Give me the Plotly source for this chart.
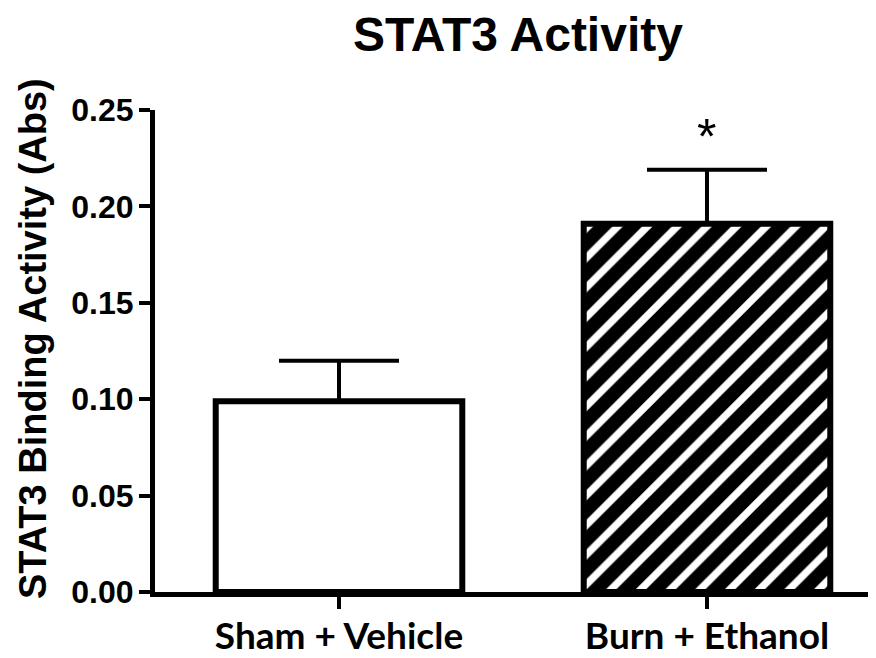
import plotly.graph_objects as go

categories = ["Sham + Vehicle", "Burn + Ethanol"]
means = [0.099, 0.191]
sem = [0.021, 0.028]
significance = ["", "*"]
patterns = ["", "/"]
y_ticks = [0.00, 0.05, 0.10, 0.15, 0.20, 0.25]
y_tick_labels = ["0.00", "0.05", "0.10", "0.15", "0.20", "0.25"]

# page body has an 8px margin; positions below are in figure coordinates
W, H = 876, 658
L, R, T, B = 147, 0, 102, 74

fig = go.Figure()
for c, m, e, p in zip(categories, means, sem, patterns):
    fig.add_trace(go.Bar(
        x=[c], y=[m], width=0.67,
        marker=dict(
            color="white",
            line=dict(color="black", width=6),
            pattern=dict(shape=p, fgcolor="#000000", bgcolor="#ffffff",
                         fgopacity=1, fillmode="replace",
                         size=21, solidity=0.65) if p else None,
        ),
        error_y=dict(type="data", symmetric=False, array=[e], arrayminus=[0],
                     color="black", thickness=4, width=60),
        showlegend=False,
    ))

for c, m, e, s in zip(categories, means, sem, significance):
    if s:
        fig.add_annotation(x=c, y=m + e, text=s, showarrow=False,
                           yanchor="bottom", yshift=3,
                           font=dict(family="Liberation Sans", size=50, color="black"))

fig.add_annotation(xref="paper", yref="paper",
                   x=(25 - L) / (W - L - R), y=(584 - 331) / (H - T - B),
                   text="<b>STAT3 Binding Activity (Abs)</b>", textangle=-90,
                   showarrow=False, xanchor="center", yanchor="middle",
                   font=dict(family="Liberation Sans", size=38, color="black"))

fig.update_layout(
    width=W, height=H,
    margin=dict(l=L, r=R, t=T, b=B, pad=0),
    paper_bgcolor="white", plot_bgcolor="white",
    title=dict(text="<b>STAT3 Activity</b>", x=510 / W, xanchor="center",
               y=1 - 26 / H, yanchor="middle",
               font=dict(family="Liberation Sans", size=48, color="black")),
    barmode="overlay",
)
fig.update_xaxes(
    range=[-0.5, 1.481], showline=True, linecolor="black", linewidth=5,
    ticks="outside", ticklen=12, tickwidth=4, tickcolor="black",
    tickfont=dict(family="Lato", size=37, color="black", weight="bold"),
    showgrid=False, zeroline=False, automargin=False, ticklabelstandoff=-4,
)
fig.update_yaxes(
    range=[0, 0.25], tickvals=y_ticks, ticktext=[f"<b>{t}</b>" for t in y_tick_labels],
    showline=True, linecolor="black", linewidth=5,
    ticks="outside", ticklen=11, tickwidth=4, tickcolor="black",
    tickfont=dict(family="Liberation Sans", size=32, color="black"),
    showgrid=False, zeroline=False, automargin=False, ticklabelstandoff=-1,
)

fig.write_html("out.html")
